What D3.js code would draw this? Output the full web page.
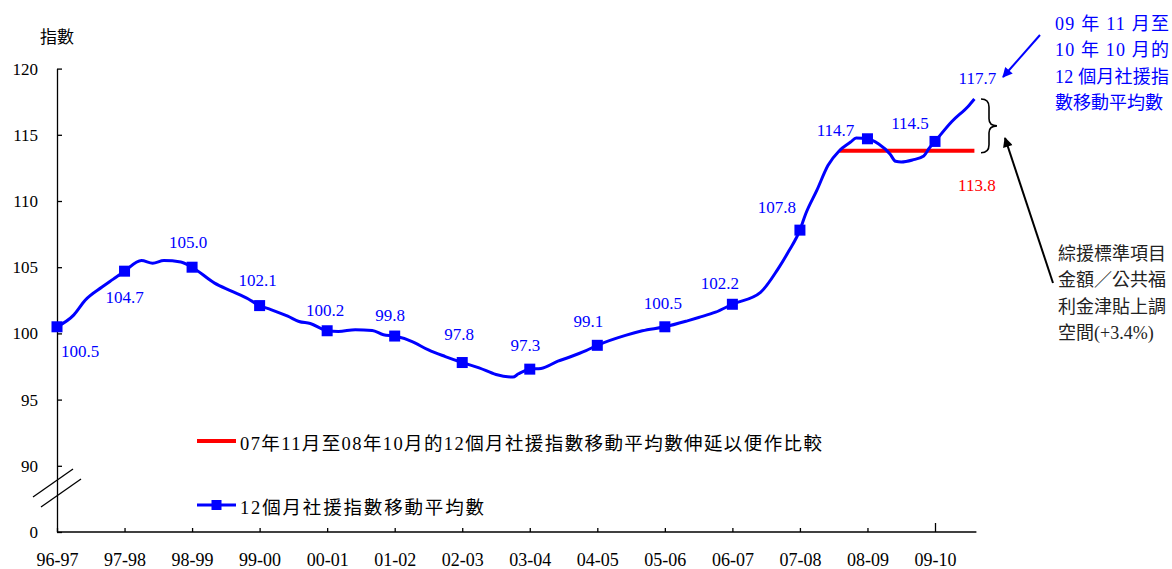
<!DOCTYPE html>
<html><head><meta charset="utf-8">
<script src="https://cdn.jsdelivr.net/npm/d3@7"></script>
<style>
html,body{margin:0;padding:0;background:#fff;}
svg{display:block;}
</style></head>
<body>
<svg id="chart" width="1172" height="569"></svg>
<script>
// ---------- data ----------
const years = ["96-97","97-98","98-99","99-00","00-01","01-02","02-03","03-04","04-05","05-06","06-07","07-08","08-09","09-10"];
const annualValues = [100.5,104.7,105.0,102.1,100.2,99.8,97.8,97.3,99.1,100.5,102.2,107.8,114.7,114.5];
// month index counted from the 96-97 point (Mar 1997) and the 12-month moving average
const lineMonths = [0,3,5,8,10,12,15,17,19,22,24,28,31,34,36,38,41,43,45,48,50,53,56,58,60,63,66,69,72,75,78,81,82,84,86,89,91,94,96,101,104,108,112,114,117,120,125,128,130,132,133,135,137,139,141,142,144,146,148,149,150,152,154,155,156,159,162,163];
const lineValues = [100.5,101.4,102.5,103.5,104.1,104.7,105.5,105.3,105.5,105.4,105.0,103.8,103.2,102.6,102.1,101.8,101.3,100.9,100.75,100.2,100.15,100.28,100.22,99.9,99.8,99.4,98.75,98.25,97.8,97.4,96.9,96.7,96.95,97.3,97.35,97.9,98.2,98.7,99.1,99.85,100.2,100.5,100.95,101.2,101.6,102.2,103.1,104.8,106.2,107.8,109.0,110.8,112.7,113.8,114.45,114.75,114.7,114.3,113.55,113.0,112.95,113.1,113.4,114.0,114.5,116.0,117.2,117.7];
const latestValue = 117.7;     // Nov 09 - Oct 10
const baselineValue = 113.8;   // Nov 07 - Oct 08
const baselineStartMonth = 139; // Oct 2008
const lastMonth = 163;          // Oct 2010
const yTicks = [85,90,95,100,105,110,115,120];
const yTickLabels = ["0","90","95","100","105","110","115","120"];
const legendLabels = ["07年11月至08年10月的12個月社援指數移動平均數伸延以便作比較","12個月社援指數移動平均數"];
const blueNote = ["09 年 11 月至","10 年 10 月的","12 個月社援指","數移動平均數"];
const blackNote = ["綜援標準項目","金額／公共福","利金津貼上調","空間(+3.4%)"];
const yAxisTitle = "指數";

// ---------- layout ----------
const FONT = '"Liberation Serif","Times New Roman","Noto Sans CJK TC"';
const svg = d3.select("#chart");
const x = d3.scaleLinear().domain([0, lastMonth]).range([57, 974.4]);
const y = d3.scaleLinear().domain([85, 120]).range([532, 68.6]);
const BLUE = "#0000ff", RED = "#ff0000";

// y axis
const yAxis = d3.axisLeft(y).tickValues(yTicks)
  .tickFormat((d,i)=>yTickLabels[i]).tickSizeInner(-5).tickSizeOuter(0).tickPadding(19);
const gy = svg.append("g").attr("transform","translate(57,0)").call(yAxis);
gy.selectAll("text").attr("font-size",17).attr("fill","#000");
gy.selectAll("line,path").attr("stroke","#000").attr("stroke-width",1.3);

// x axis
const xAxis = d3.axisBottom(x).tickValues(years.map((d,i)=>i*12))
  .tickFormat(d=>years[d/12]).tickSizeInner(-4).tickSizeOuter(0).tickPadding(10);
const gx = svg.append("g").attr("transform","translate(0,532)").call(xAxis);
gx.select(".domain").attr("d",`M${x(0)},0H${x(lastMonth)+2}`);
gx.selectAll("line,path").attr("stroke","#000").attr("stroke-width",1.3);
gx.selectAll("text").attr("font-size",18).attr("fill","#000").attr("y",34).attr("dy",null);
gx.selectAll(".tick").filter(d=>d===156).select("line").attr("y2",-9);

// axis break marks
[[0,0],[8,10]].forEach(o=>{
  svg.append("line").attr("x1",33+o[0]).attr("y1",497+o[1]).attr("x2",73+o[0]).attr("y2",469+o[1])
    .attr("stroke","#000").attr("stroke-width",1.3);
});

// y title
svg.append("text").attr("x",40).attr("y",37).attr("dy","0.35em")
  .attr("font-size",17).text(yAxisTitle);

// baseline (red) extension
svg.append("line").attr("x1",x(baselineStartMonth)).attr("x2",x(lastMonth))
  .attr("y1",y(baselineValue)).attr("y2",y(baselineValue))
  .attr("stroke",RED).attr("stroke-width",4);

// main line
const pts = lineMonths.map((m,i)=>[m,lineValues[i]]);
svg.append("path").datum(pts)
  .attr("d", d3.line().x(d=>x(d[0])).y(d=>y(d[1])).curve(d3.curveMonotoneX))
  .attr("fill","none").attr("stroke",BLUE).attr("stroke-width",3).attr("stroke-linejoin","round");

// markers
const ms = 11;
svg.selectAll("rect.mk").data(annualValues).join("rect").attr("class","mk")
  .attr("x",(d,i)=>x(i*12)-ms/2).attr("y",d=>y(d)-ms/2)
  .attr("width",ms).attr("height",ms).attr("fill",BLUE);

// data labels (offsets from marker centre)
const labelOffsets = [[23,24.5],[0,26],[-4,-25],[-2,-26],[-2,-21],[-4.6,-21],[-3,-28],[-4.5,-24],[-9,-24],[-2,-24],[-12.6,-21],[-23,-23],[-32,-9],[-25,-18]];
svg.selectAll("text.dl").data(annualValues).join("text").attr("class","dl")
  .attr("x",(d,i)=>x(i*12)+labelOffsets[i][0]).attr("y",(d,i)=>y(d)+labelOffsets[i][1])
  .attr("dy","0.35em").attr("text-anchor","middle").attr("font-size",17).attr("fill",BLUE)
  .text(d=>d.toFixed(1));
svg.append("text").attr("x",x(lastMonth)+3).attr("y",y(latestValue)-21).attr("dy","0.35em")
  .attr("text-anchor","middle").attr("font-size",17).attr("fill",BLUE).text(latestValue.toFixed(1));
svg.append("text").attr("x",x(lastMonth)+2.5).attr("y",y(baselineValue)+34.5).attr("dy","0.35em")
  .attr("text-anchor","middle").attr("font-size",17).attr("fill",RED).text(baselineValue.toFixed(1));

// brace
const bt = y(latestValue), bb = y(baselineValue)+2, bm = (bt+bb)/2, bx = 981;
svg.append("path")
  .attr("d",`M${bx},${bt} Q${bx+8},${bt} ${bx+8},${bt+8} L${bx+8},${bm-7} Q${bx+8},${bm} ${bx+16},${bm} Q${bx+8},${bm} ${bx+8},${bm+7} L${bx+8},${bb-8} Q${bx+8},${bb} ${bx},${bb}`)
  .attr("fill","none").attr("stroke","#000").attr("stroke-width",1.6);

// arrows
const defs = svg.append("defs");
[["ab",BLUE],["ak","#000"]].forEach(([id,c])=>{
  defs.append("marker").attr("id",id).attr("viewBox","0 0 10 10").attr("refX",9).attr("refY",5)
    .attr("markerWidth",14).attr("markerHeight",10).attr("markerUnits","userSpaceOnUse")
    .attr("orient","auto").append("path").attr("d","M0,0L10,5L0,10z").attr("fill",c);
});
svg.append("line").attr("x1",1040).attr("y1",35).attr("x2",1003).attr("y2",77)
  .attr("stroke",BLUE).attr("stroke-width",2).attr("marker-end","url(#ab)");
svg.append("line").attr("x1",1053).attr("y1",283).attr("x2",1005).attr("y2",138)
  .attr("stroke","#000").attr("stroke-width",2).attr("marker-end","url(#ak)");

// blue note
const blueY = [24,50,77,103];
blueNote.forEach((t,i)=>{
  const tx = svg.append("text").attr("x",1055).attr("y",blueY[i]).attr("dy","0.35em")
    .attr("font-size",18).attr("fill",BLUE).text(t);
  if(i<3) tx.attr("textLength",114).attr("lengthAdjust","spacing");
});
// black note
const blackY = [254,280,307,333];
blackNote.forEach((t,i)=>{
  svg.append("text").attr("x",1058).attr("y",blackY[i]).attr("dy","0.35em")
    .attr("font-size",18).attr("fill","#222").text(t);
});

// legend
const lg = [[441,RED,4,false],[505,BLUE,3,true]];
lg.forEach(([ly,c,w,mk],i)=>{
  svg.append("line").attr("x1",197).attr("x2",236).attr("y1",ly).attr("y2",ly)
    .attr("stroke",c).attr("stroke-width",w);
  if(mk) svg.append("rect").attr("x",216.5-5).attr("y",ly-5).attr("width",10).attr("height",10).attr("fill",c);
  svg.append("text").attr("x",240).attr("y",ly+3).attr("dy","0.35em")
    .attr("font-size",18.5).attr("fill","#000")
    .attr("textLength", i===0?582:244).attr("lengthAdjust","spacing").text(legendLabels[i]);
});

// apply font to every text inline
svg.selectAll("text").style("font-family", FONT);
</script>
</body></html>
